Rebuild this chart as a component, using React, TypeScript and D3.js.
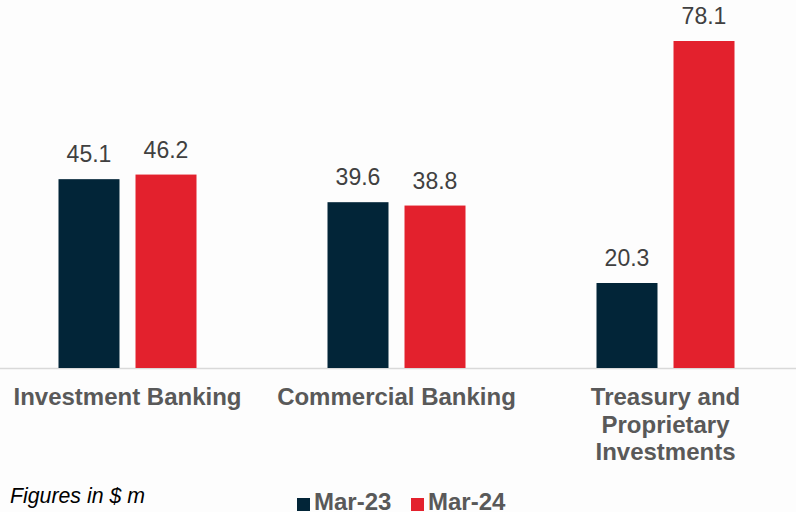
import React from "react";
import * as d3 from "d3";

const categories = ["Investment Banking", "Commercial Banking", "Treasury and Proprietary Investments"];
const categoryLines = [["Investment Banking"], ["Commercial Banking"], ["Treasury and", "Proprietary", "Investments"]];
const seriesNames = ["Mar-23", "Mar-24"];
const mar23 = [45.1, 39.6, 20.3];
const mar24 = [46.2, 38.8, 78.1];
const colors = ["#022538", "#E3212D"];

const W = 796;
const H = 512;
const baseY = 368;
const font = "'Liberation Sans', Arial, sans-serif";

export default function App() {
  const x0 = d3.scaleBand<string>().domain(categories).range([-7, 800]).padding(0);
  const x1 = d3.scaleBand<string>().domain(seriesNames).range([65.5, 203.5]).paddingInner(0.208).paddingOuter(0);
  const y = d3.scaleLinear().domain([0, 78.1]).range([baseY, 41]);
  const values = [mar23, mar24];

  return (
    <div style={{ position: "fixed", left: 0, top: 0, width: W, height: H }}>
      <svg width={W} height={H} style={{ display: "block", background: "#fdfdfd" }}>
        <line x1={0} x2={W} y1={baseY + 0.5} y2={baseY + 0.5} stroke="#d9d9d9" strokeWidth={1.5} />
        {categories.map((c, i) => (
          <g key={c} transform={`translate(${x0(c)},0)`}>
            {seriesNames.map((s, j) => {
              const v = values[j][i];
              const bx = x1(s)!;
              const bw = x1.bandwidth();
              return (
                <g key={s}>
                  <rect x={bx} y={y(v)} width={bw} height={baseY - y(v)} fill={colors[j]} />
                  <text
                    x={bx + bw / 2}
                    y={y(v) - 17}
                    textAnchor="middle"
                    fontFamily={font}
                    fontSize={23}
                    fill="#404040"
                  >
                    {v.toFixed(1)}
                  </text>
                </g>
              );
            })}
            <text
              x={x0.bandwidth() / 2}
              textAnchor="middle"
              fontFamily={font}
              fontSize={24}
              fontWeight="bold"
              fill="#595959"
            >
              {categoryLines[i].map((ln, k) => (
                <tspan key={k} x={x0.bandwidth() / 2} y={405 + k * 27.5}>
                  {ln}
                </tspan>
              ))}
            </text>
          </g>
        ))}
        <text x={10} y={503} fontFamily={font} fontSize={21.3} fontStyle="italic" fill="#000">
          Figures in $ m
        </text>
        {seriesNames.map((s, j) => {
          const lx = [297, 411][j];
          return (
            <g key={s}>
              <rect x={lx} y={498} width={13} height={13} fill={colors[j]} />
              <text x={lx + 17} y={510} fontFamily={font} fontSize={24} fontWeight="bold" fill="#595959">
                {s}
              </text>
            </g>
          );
        })}
      </svg>
    </div>
  );
}
